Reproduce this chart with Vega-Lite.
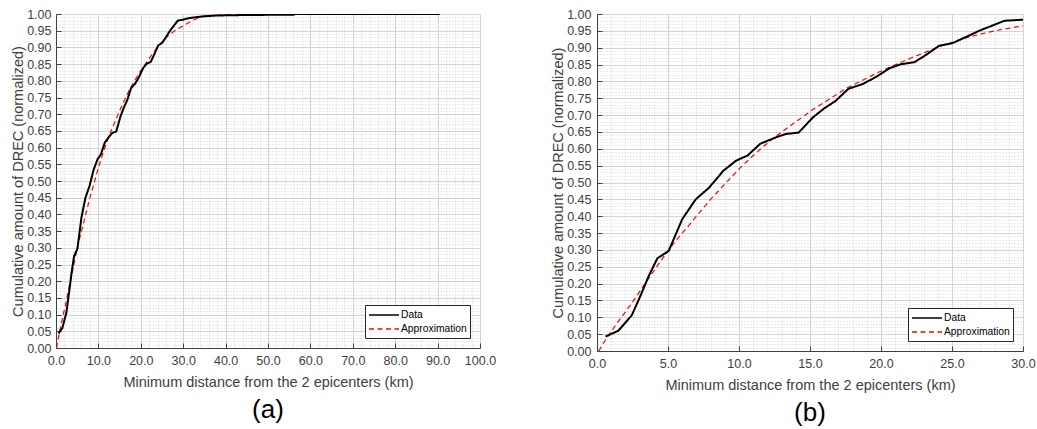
{
  "$schema": "https://vega.github.io/schema/vega-lite/v6.json",
  "background": "white",
  "padding": {"left": 10, "top": 8, "right": 0, "bottom": 2},
  "datasets": {
    "curves": [
      {"km": 0.6, "cum": 0.043, "series": "Data"},
      {"km": 1.5, "cum": 0.06, "series": "Data"},
      {"km": 2.45, "cum": 0.106, "series": "Data"},
      {"km": 3.05, "cum": 0.163, "series": "Data"},
      {"km": 3.65, "cum": 0.223, "series": "Data"},
      {"km": 4.25, "cum": 0.275, "series": "Data"},
      {"km": 5.05, "cum": 0.297, "series": "Data"},
      {"km": 6.0, "cum": 0.391, "series": "Data"},
      {"km": 6.95, "cum": 0.45, "series": "Data"},
      {"km": 7.9, "cum": 0.485, "series": "Data"},
      {"km": 8.9, "cum": 0.535, "series": "Data"},
      {"km": 9.8, "cum": 0.565, "series": "Data"},
      {"km": 10.6, "cum": 0.58, "series": "Data"},
      {"km": 11.5, "cum": 0.615, "series": "Data"},
      {"km": 12.6, "cum": 0.634, "series": "Data"},
      {"km": 13.3, "cum": 0.644, "series": "Data"},
      {"km": 14.2, "cum": 0.648, "series": "Data"},
      {"km": 15.2, "cum": 0.693, "series": "Data"},
      {"km": 16.0, "cum": 0.72, "series": "Data"},
      {"km": 16.8, "cum": 0.742, "series": "Data"},
      {"km": 17.7, "cum": 0.778, "series": "Data"},
      {"km": 18.7, "cum": 0.792, "series": "Data"},
      {"km": 19.6, "cum": 0.812, "series": "Data"},
      {"km": 20.6, "cum": 0.839, "series": "Data"},
      {"km": 21.4, "cum": 0.851, "series": "Data"},
      {"km": 22.35, "cum": 0.857, "series": "Data"},
      {"km": 23.15, "cum": 0.878, "series": "Data"},
      {"km": 24.1, "cum": 0.906, "series": "Data"},
      {"km": 25.0, "cum": 0.913, "series": "Data"},
      {"km": 25.95, "cum": 0.931, "series": "Data"},
      {"km": 26.9, "cum": 0.95, "series": "Data"},
      {"km": 27.8, "cum": 0.965, "series": "Data"},
      {"km": 28.7, "cum": 0.98, "series": "Data"},
      {"km": 29.95, "cum": 0.983, "series": "Data"},
      {"km": 31.5, "cum": 0.988, "series": "Data"},
      {"km": 34.0, "cum": 0.992, "series": "Data"},
      {"km": 37.0, "cum": 0.995, "series": "Data"},
      {"km": 40.0, "cum": 0.996, "series": "Data"},
      {"km": 45.0, "cum": 0.997, "series": "Data"},
      {"km": 56.0, "cum": 0.998, "series": "Data"},
      {"km": 56.5, "cum": 1.0, "series": "Data"},
      {"km": 90.5, "cum": 1.0, "series": "Data"},
      {"km": 0.12, "cum": 0.0, "series": "Approximation"},
      {"km": 0.7, "cum": 0.04, "series": "Approximation"},
      {"km": 1.5, "cum": 0.088, "series": "Approximation"},
      {"km": 2.35, "cum": 0.136, "series": "Approximation"},
      {"km": 3.5, "cum": 0.207, "series": "Approximation"},
      {"km": 4.7, "cum": 0.28, "series": "Approximation"},
      {"km": 5.5, "cum": 0.325, "series": "Approximation"},
      {"km": 6.5, "cum": 0.374, "series": "Approximation"},
      {"km": 7.0, "cum": 0.4, "series": "Approximation"},
      {"km": 8.0, "cum": 0.45, "series": "Approximation"},
      {"km": 9.0, "cum": 0.495, "series": "Approximation"},
      {"km": 10.0, "cum": 0.54, "series": "Approximation"},
      {"km": 11.0, "cum": 0.58, "series": "Approximation"},
      {"km": 12.0, "cum": 0.617, "series": "Approximation"},
      {"km": 13.0, "cum": 0.65, "series": "Approximation"},
      {"km": 14.0, "cum": 0.68, "series": "Approximation"},
      {"km": 15.16, "cum": 0.715, "series": "Approximation"},
      {"km": 17.5, "cum": 0.778, "series": "Approximation"},
      {"km": 19.86, "cum": 0.828, "series": "Approximation"},
      {"km": 22.2, "cum": 0.871, "series": "Approximation"},
      {"km": 24.1, "cum": 0.903, "series": "Approximation"},
      {"km": 26.0, "cum": 0.93, "series": "Approximation"},
      {"km": 28.0, "cum": 0.95, "series": "Approximation"},
      {"km": 30.0, "cum": 0.965, "series": "Approximation"},
      {"km": 32.4, "cum": 0.982, "series": "Approximation"},
      {"km": 34.8, "cum": 0.994, "series": "Approximation"},
      {"km": 40.0, "cum": 0.998, "series": "Approximation"},
      {"km": 50.0, "cum": 1.0, "series": "Approximation"},
      {"km": 90.0, "cum": 1.0, "series": "Approximation"}
    ]
  },
  "config": {
    "font": "Liberation Sans",
    "view": {"stroke": null},
    "concat": {"spacing": 54},
    "axis": {
      "labelFont": "Liberation Sans",
      "titleFont": "Liberation Sans",
      "labelFontSize": 12.5,
      "titleFontSize": 14.5,
      "titleFontWeight": "normal",
      "labelColor": "#404040",
      "titleColor": "#404040",
      "domainColor": "#404040",
      "tickColor": "#404040",
      "labelOverlap": false,
      "labelFlush": false
    },
    "legend": {
      "orient": "bottom-right",
      "offset": 10,
      "padding": 3,
      "strokeColor": "#262626",
      "fillColor": "white",
      "cornerRadius": 0,
      "labelFont": "Liberation Sans",
      "labelFontSize": 10.3,
      "labelColor": "#000000",
      "labelOffset": 19,
      "symbolType": "M-1,0H4",
      "symbolSize": 144,
      "symbolStrokeWidth": 1.6,
      "rowPadding": 1
    },
    "title": {"font": "Liberation Sans", "fontSize": 26, "fontWeight": "normal", "color": "#000000"}
  },
  "resolve": {"scale": {"color": "independent", "strokeDash": "independent"}, "legend": {"color": "independent", "strokeDash": "independent"}},
  "hconcat": [
    {
      "width": 424,
      "height": 334,
      "title": {"text": "(a)", "orient": "bottom", "offset": 8},
      "data": {"name": "curves"},
      "resolve": {"axis": {"x": "independent", "y": "independent"}},
      "layer": [
        {
          "transform": [{"filter": "datum.series === 'Approximation'"}],
          "mark": {"type": "line", "strokeWidth": 1.2, "clip": true},
          "encoding": {
            "x": {"field": "km", "type": "quantitative", "scale": {"domain": [0, 100], "nice": false, "zero": false},
              "axis": {"orient": "bottom", "labels": false, "ticks": false, "domain": false, "title": null, "grid": true, "tickCount": 50, "gridColor": "#c8c8c8", "gridOpacity": 0.75, "gridDash": [1, 2], "gridWidth": 1}},
            "y": {"field": "cum", "type": "quantitative", "scale": {"domain": [0, 1], "nice": false},
              "axis": {"orient": "left", "labels": false, "ticks": false, "domain": false, "title": null, "grid": true, "tickCount": 100, "gridColor": "#c8c8c8", "gridOpacity": 0.75, "gridDash": [1, 2], "gridWidth": 1}},
            "color": {"field": "series", "type": "nominal", "scale": {"domain": ["Data", "Approximation"], "range": ["#000000", "#ff0000"]}, "legend": {"title": null, "symbolType": "M-1,0H4", "symbolSize": 144}},
            "strokeDash": {"field": "series", "type": "nominal", "scale": {"domain": ["Data", "Approximation"], "range": [[1, 0], [5, 3.5]]}, "legend": {"title": null, "symbolType": "M-1,0H4", "symbolSize": 144}}
          }
        },
        {
          "transform": [{"filter": "datum.series === 'Data'"}],
          "mark": {"type": "line", "strokeWidth": 2, "clip": true},
          "encoding": {
            "x": {"field": "km", "type": "quantitative", "scale": {"domain": [0, 100], "nice": false, "zero": false},
              "axis": {"orient": "bottom", "values": [0, 10, 20, 30, 40, 50, 60, 70, 80, 90, 100], "format": ".1f", "grid": true, "gridColor": "#d4d4d4", "tickSize": -5, "labelPadding": 11, "title": "Minimum distance from the 2 epicenters (km)", "titlePadding": 9}},
            "y": {"field": "cum", "type": "quantitative", "scale": {"domain": [0, 1], "nice": false},
              "axis": {"orient": "left", "values": [0, 0.05, 0.1, 0.15, 0.2, 0.25, 0.3, 0.35, 0.4, 0.45, 0.5, 0.55, 0.6, 0.65, 0.7, 0.75, 0.8, 0.85, 0.9, 0.95, 1], "format": ".2f", "grid": true, "gridColor": "#d4d4d4", "tickSize": -5, "labelPadding": 10, "title": "Cumulative amount of DREC (normalized)", "titlePadding": 1}},
            "color": {"field": "series", "type": "nominal", "scale": {"domain": ["Data", "Approximation"], "range": ["#000000", "#ff0000"]}, "legend": {"title": null, "symbolType": "M-1,0H4", "symbolSize": 144}},
            "strokeDash": {"field": "series", "type": "nominal", "scale": {"domain": ["Data", "Approximation"], "range": [[1, 0], [5, 3.5]]}, "legend": {"title": null, "symbolType": "M-1,0H4", "symbolSize": 144}}
          }
        }
      ]
    },
    {
      "width": 426,
      "height": 337,
      "title": {"text": "(b)", "orient": "bottom", "offset": 8},
      "data": {"name": "curves"},
      "resolve": {"axis": {"x": "independent", "y": "independent"}},
      "layer": [
        {
          "transform": [{"filter": "datum.series === 'Approximation'"}],
          "mark": {"type": "line", "strokeWidth": 1.2, "clip": true},
          "encoding": {
            "x": {"field": "km", "type": "quantitative", "scale": {"domain": [0, 30], "nice": false, "zero": false},
              "axis": {"orient": "bottom", "labels": false, "ticks": false, "domain": false, "title": null, "grid": true, "tickCount": 30, "gridColor": "#c8c8c8", "gridOpacity": 0.75, "gridDash": [1, 2], "gridWidth": 1}},
            "y": {"field": "cum", "type": "quantitative", "scale": {"domain": [0, 1], "nice": false},
              "axis": {"orient": "left", "labels": false, "ticks": false, "domain": false, "title": null, "grid": true, "tickCount": 100, "gridColor": "#c8c8c8", "gridOpacity": 0.75, "gridDash": [1, 2], "gridWidth": 1}},
            "color": {"field": "series", "type": "nominal", "scale": {"domain": ["Data", "Approximation"], "range": ["#000000", "#ff0000"]}, "legend": {"title": null, "symbolType": "M-1,0H4", "symbolSize": 144}},
            "strokeDash": {"field": "series", "type": "nominal", "scale": {"domain": ["Data", "Approximation"], "range": [[1, 0], [5, 3.5]]}, "legend": {"title": null, "symbolType": "M-1,0H4", "symbolSize": 144}}
          }
        },
        {
          "transform": [{"filter": "datum.series === 'Data'"}],
          "mark": {"type": "line", "strokeWidth": 2, "clip": true},
          "encoding": {
            "x": {"field": "km", "type": "quantitative", "scale": {"domain": [0, 30], "nice": false, "zero": false},
              "axis": {"orient": "bottom", "values": [0, 5, 10, 15, 20, 25, 30], "format": ".1f", "grid": true, "gridColor": "#d4d4d4", "tickSize": -5, "labelPadding": 11, "title": "Minimum distance from the 2 epicenters (km)", "titlePadding": 9}},
            "y": {"field": "cum", "type": "quantitative", "scale": {"domain": [0, 1], "nice": false},
              "axis": {"orient": "left", "values": [0, 0.05, 0.1, 0.15, 0.2, 0.25, 0.3, 0.35, 0.4, 0.45, 0.5, 0.55, 0.6, 0.65, 0.7, 0.75, 0.8, 0.85, 0.9, 0.95, 1], "format": ".2f", "grid": true, "gridColor": "#d4d4d4", "tickSize": -5, "labelPadding": 11, "title": "Cumulative amount of DREC (normalized)", "titlePadding": 1}},
            "color": {"field": "series", "type": "nominal", "scale": {"domain": ["Data", "Approximation"], "range": ["#000000", "#ff0000"]}, "legend": {"title": null, "symbolType": "M-1,0H4", "symbolSize": 144}},
            "strokeDash": {"field": "series", "type": "nominal", "scale": {"domain": ["Data", "Approximation"], "range": [[1, 0], [5, 3.5]]}, "legend": {"title": null, "symbolType": "M-1,0H4", "symbolSize": 144}}
          }
        }
      ]
    }
  ]
}
